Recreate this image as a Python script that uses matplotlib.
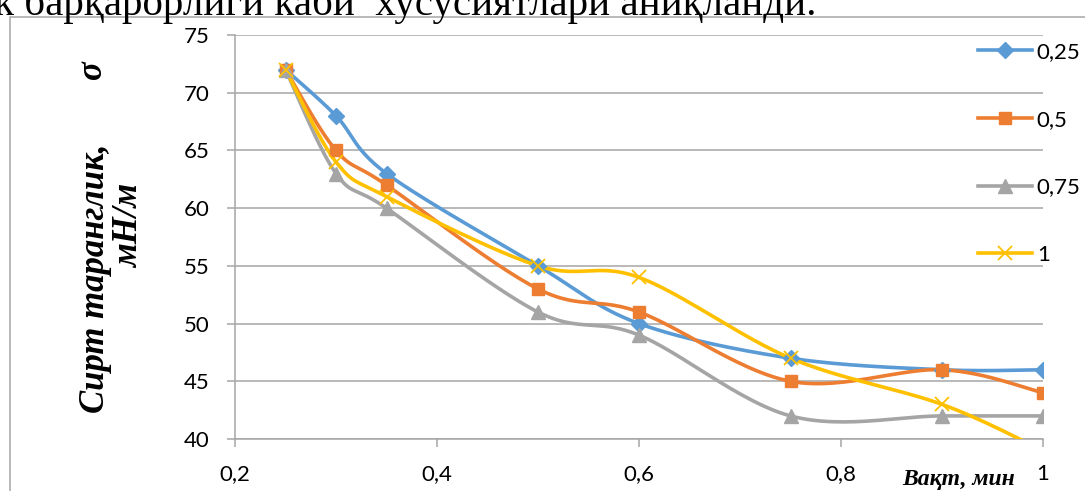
import numpy as np
import matplotlib.pyplot as plt
from matplotlib.lines import Line2D
from matplotlib.patches import Rectangle

# data
time_min = [0.25, 0.3, 0.35, 0.5, 0.6, 0.75, 0.9, 1.0]
s_025 = [72, 68, 63, 55, 50, 47, 46, 46]
s_05 = [72, 65, 62, 53, 51, 45, 46, 44]
s_075 = [72, 63, 60, 51, 49, 42, 42, 42]
s_1 = [72, 64, 61, 55, 54, 47, 43, 39]
labels = ['0,25', '0,5', '0,75', '1']
xticks = [0.2, 0.4, 0.6, 0.8, 1.0]
xtick_labels = ['0,2', '0,4', '0,6', '0,8', '1']
yticks = [40, 45, 50, 55, 60, 65, 70, 75]

colors = ['#5B9BD5', '#ED7D31', '#A5A5A5', '#FFC000']
markers = ['D', 's', '^', 'x']
msizes = [8, 9, 9.5, 9.5]

W, H = 1085, 491
fig = plt.figure(figsize=(W / 100, H / 100), dpi=100)
ax = fig.add_axes([235 / W, 1 - 439 / H, (1043 - 235) / W, (439 - 35) / H])
ax.set_xlim(0.2, 1.0)
ax.set_ylim(40, 75)

# pixel scale used for Excel-like smoothing
sx = (1043 - 235) / 0.8
sy = (439 - 35) / 35.0


def smooth(xs, ys, n=30):
    px = np.array(xs) * sx
    py = np.array(ys) * sy
    P = np.column_stack([px, py])
    P = np.vstack([P[0], P, P[-1]])
    out = []
    for i in range(1, len(P) - 2):
        p0, p1, p2, p3 = P[i - 1], P[i], P[i + 1], P[i + 2]
        c1 = p1 + (p2 - p0) / 6.0
        c2 = p2 - (p3 - p1) / 6.0
        t = np.linspace(0, 1, n)[:, None]
        seg = ((1 - t) ** 3) * p1 + 3 * ((1 - t) ** 2) * t * c1 + 3 * (1 - t) * t ** 2 * c2 + t ** 3 * p2
        out.append(seg if i == 1 else seg[1:])
    out = np.vstack(out)
    return out[:, 0] / sx, out[:, 1] / sy


series = [s_025, s_05, s_075, s_1]
for ys, c, m, ms in zip(series, colors, markers, msizes):
    xx, yy = smooth(time_min, ys)
    ax.plot(xx, yy, color=c, lw=2.6, solid_capstyle='round', zorder=3)
    if m == 'x':
        ax.plot(time_min, ys, ls='none', marker=m, ms=ms, mew=1.3, color=c, zorder=4)
    else:
        ax.plot(time_min, ys, ls='none', marker=m, ms=ms, color=c, mec=c, zorder=4)

ax.set_xticks(xticks)
ax.set_xticklabels(xtick_labels)
ax.set_yticks(yticks)
ax.grid(axis='y', color='#A6A6A6', lw=1.1)
ax.set_axisbelow(True)
for side in ['top', 'right']:
    ax.spines[side].set_visible(False)
for side in ['left', 'bottom']:
    ax.spines[side].set_color('#A6A6A6')
    ax.spines[side].set_linewidth(1.1)
ax.tick_params(axis='both', colors='#A6A6A6', length=6, width=1.1,
               labelcolor='black', labelsize=16, pad=4)
ax.tick_params(axis='y', pad=12.5)
ax.tick_params(axis='x', pad=12)
for lab in ax.get_xticklabels() + ax.get_yticklabels():
    lab.set_family(['Lato', 'DejaVu Sans'])
ax.patch.set_alpha(0)

handles = [Line2D([], [], color=c, lw=2.6, marker=m, ms=ms, mew=1.3 if m == 'x' else 1, mec=c)
           for c, m, ms in zip(colors, markers, msizes)]
leg = fig.legend(handles, labels, loc='upper left', bbox_to_anchor=(969 / W, 1 - 33 / H),
                 frameon=False, prop={'family': ['Lato', 'DejaVu Sans'], 'size': 16},
                 labelspacing=2.15, handlelength=2.45, handletextpad=0.2, borderaxespad=0)

serif = ['Liberation Serif', 'DejaVu Serif']
fig.text(95 / W, 1 - 278 / H, 'Сирт таранглик,', rotation=90, ha='center', va='center',
         family=serif, fontsize=25, fontweight='bold', style='italic')
fig.text(130 / W, 1 - 226 / H, 'мН/м', rotation=90, ha='center', va='center',
         family=serif, fontsize=25, fontweight='bold', style='italic')
fig.text(92 / W, 1 - 70 / H, 'σ', rotation=90, ha='center', va='center',
         family=serif, fontsize=25, fontweight='bold', style='italic')
fig.text(959 / W, 1 - 480 / H, 'Вақт, мин', ha='center', va='center',
         family=serif, fontsize=17, fontweight='bold', style='italic')

# cut-off line of document text above the chart
fig.text(-6 / W, 1 - 15 / H, 'к барқарорлиги каби  хусусиятлари аниқланди.', ha='left',
         va='baseline', family=serif, fontsize=29.5)

fig.patches.append(Rectangle((10 / W, -0.1), 1.2, 1 - 17 / H + 0.1, transform=fig.transFigure,
                             fill=False, ec='#A6A6A6', lw=1.1))

fig.savefig('out.png', dpi=100)
